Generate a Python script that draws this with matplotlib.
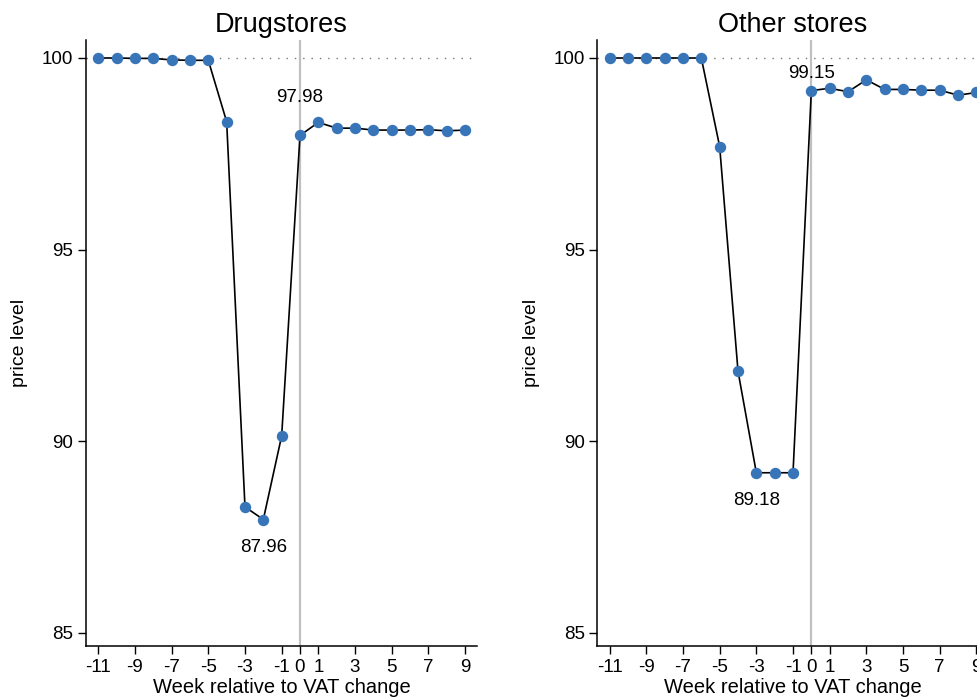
import matplotlib
matplotlib.use("Agg")
import matplotlib.pyplot as plt

plt.rcParams['font.family'] = ['Liberation Sans', 'DejaVu Sans']
plt.rcParams['axes.unicode_minus'] = False

weeks = list(range(-11, 10))

# price index by store type, base week = 100
drugstores = [100.0, 100.0, 99.99, 99.99, 99.95, 99.94, 99.94, 98.34, 88.29, 87.96,
              90.14, 97.98, 98.32, 98.17, 98.17, 98.12, 98.12, 98.12, 98.13, 98.10, 98.12]
other_stores = [100.0, 100.0, 100.0, 100.0, 100.0, 100.0, 97.69, 91.83, 89.18, 89.18,
                89.18, 99.15, 99.21, 99.12, 99.43, 99.18, 99.18, 99.16, 99.16, 99.03, 99.10]

xticks = [-11, -9, -7, -5, -3, -1, 0, 1, 3, 5, 7, 9]
yticks = [85, 90, 95, 100]

panels = [
    ("Drugstores", drugstores, [(0, 21, 'bottom'), (-2, -14, 'top')]),
    ("Other stores", other_stores, [(0, 6, 'bottom'), (-3, -14, 'top')]),
]

fig = plt.figure(figsize=(9.77, 6.99), dpi=100)
positions = [[0.088, 0.0758, 0.4002, 0.867], [0.6114, 0.0758, 0.4002, 0.867]]

for pos, (title, vals, notes) in zip(positions, panels):
    ax = fig.add_axes(pos)
    ax.axhline(100, color='#777777', lw=1.0, ls=(0, (1, 5)), zorder=1)
    ax.axvline(0, color='#c0c0c0', lw=1.6, zorder=1)
    ax.plot(weeks, vals, color='black', lw=1.2, marker='o', ms=7.2,
            mfc='#3875b8', mec='#3875b8', zorder=3)
    for wk, dy, va in notes:
        v = vals[weeks.index(wk)]
        ax.annotate(f"{v:.2f}", (wk, v), xytext=(0, dy), textcoords='offset points',
                    ha='center', va=va, fontsize=13.5)
    ax.set_xlim(-11.67, 9.65)
    ax.set_ylim(84.66, 100.47)
    ax.set_xticks(xticks)
    ax.set_yticks(yticks)
    ax.tick_params(labelsize=13.5, length=6, width=1, pad=3)
    ax.set_title(title, fontsize=19.5, pad=6)
    ax.set_xlabel("Week relative to VAT change", fontsize=14.5, labelpad=2)
    ax.set_ylabel("price level", fontsize=14, labelpad=10)
    for side in ['top', 'right']:
        ax.spines[side].set_visible(False)
    for side in ['left', 'bottom']:
        ax.spines[side].set_linewidth(1.1)

fig.savefig("out.png", dpi=100)
